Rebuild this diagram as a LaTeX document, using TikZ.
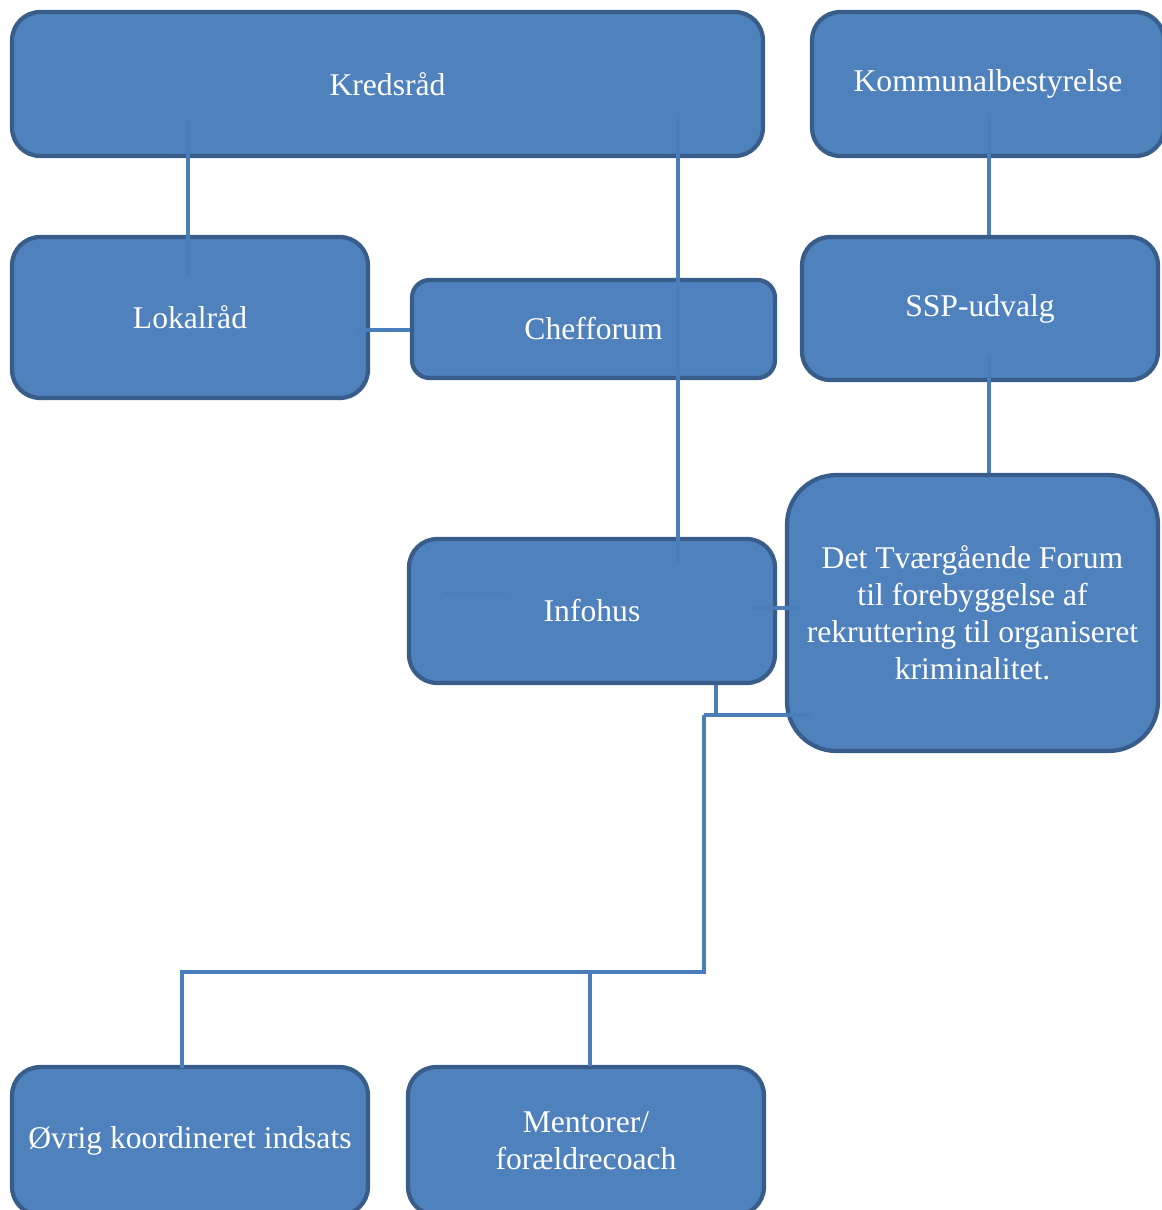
\documentclass[tikz,border=0pt]{standalone}
\usepackage{fontspec}
\setmainfont{Liberation Serif}
\usetikzlibrary{positioning}
\definecolor{boxfill}{HTML}{4F81BD}
\definecolor{boxline}{HTML}{385D8A}
\definecolor{linkcol}{HTML}{4A7EBB}
\tikzset{
b/.style={
  rectangle,
  rounded corners=16pt,
  inner sep=0pt,
  align=center,
  draw=boxline,
  line width=2.4pt,
  fill=boxfill,
  text=white,
  font=\fontsize{18}{21}\selectfont
  },
l/.style={
  draw=linkcol,
  line width=2.8pt
  }
}
\begin{document}
\begin{tikzpicture}[x=0.02cm,y=-0.02cm]
            \useasboundingbox (0,0) rectangle (1162,1210);
            \node[b,minimum width=15.02cm,minimum height=2.88cm] (kreds)   at (387.5,84)  {Kredsråd};
            \node[b,minimum width=7.04cm,minimum height=2.88cm]  (kommune) at (988,84)    {Kommunalbestyrelse};
            \node[b,minimum width=7.12cm,minimum height=3.22cm]  (lokal)   at (190,317.5) {Lokalråd};
            \node[b,rounded corners=10pt,minimum width=7.26cm,minimum height=1.96cm] (chef) at (593.5,329) {Chefforum};
            \node[b,minimum width=7.12cm,minimum height=2.86cm]  (ssp)     at (980,308.5) {SSP-udvalg};
            \node[b,minimum width=7.32cm,minimum height=2.88cm]  (info)    at (592,611)   {Infohus};
            \node[b,rounded corners=28pt,minimum width=7.42cm,minimum height=5.52cm] (forum) at (972.5,613)
                {Det Tværgående Forum\\til forebyggelse af\\rekruttering til organiseret\\kriminalitet.};
            \node[b,minimum width=7.12cm,minimum height=2.96cm]  (ovrig)   at (190,1141)  {Øvrig koordineret indsats};
            \node[b,minimum width=7.12cm,minimum height=2.96cm]  (mentor)  at (586,1141)  {Mentorer/\\forældrecoach};
            % connector ends
            \coordinate (kreds-l)   at (188,120);
            \coordinate (lokal-k)   at (188,278);
            \coordinate (kreds-i)   at (678,113);
            \coordinate (info-k)    at (678,562);
            \coordinate (kommune-s) at (989,113);
            \coordinate (ssp-k)     at (989,235);
            \coordinate (ssp-f)     at (989,355);
            \coordinate (forum-s)   at (989,473);
            \coordinate (lokal-c)   at (358,330);
            \coordinate (chef-l)    at (410,330);
            \coordinate (info-a)    at (444,593);
            \coordinate (info-b)    at (507,593);
            \coordinate (info-f)    at (752,608);
            \coordinate (forum-i)   at (802,608);
            \coordinate (info-d)    at (716,685);
            \coordinate (joint)     at (704,715);
            \coordinate (forum-d)   at (812,715);
            \coordinate (split)     at (704,972);
            \coordinate (ovrig-u)   at (182,1068);
            \coordinate (mentor-u)  at (590,1066);
            \draw[l] (kreds-l) -- (lokal-k);
            \draw[l] (kreds-i) -- (info-k);
            \draw[l] (kommune-s) -- (ssp-k);
            \draw[l] (ssp-f) -- (forum-s);
            \draw[l] (lokal-c) -- (chef-l);
            \draw[l,draw=linkcol!70!boxfill] (info-a) -- (info-b);
            \draw[l] (info-f) -- (forum-i);
            \draw[l] (info-d) -- (info-d |- joint);
            \draw[l] (joint) -- (forum-d);
            \draw[l] (joint) -- (split) -| (ovrig-u);
            \draw[l] (mentor-u |- split) -- (mentor-u);
\end{tikzpicture}
\end{document}
